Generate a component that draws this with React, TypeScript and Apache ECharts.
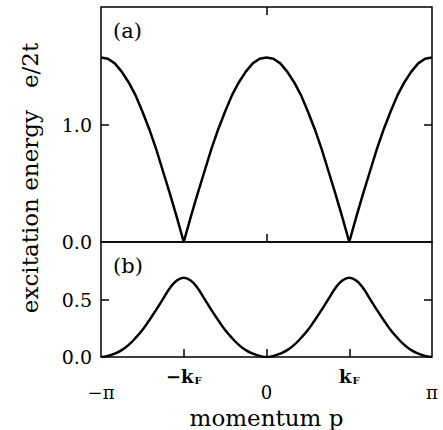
import React, { useEffect, useRef } from "react";
import * as echarts from "echarts";

// Momentum samples, in degrees, from -π to π
const momentumDeg = [
  -180, -172.5, -165, -157.5, -150, -142.5, -135, -127.5, -120, -112.5, -105, -97.5,
  -90, -82.5, -75, -67.5, -60, -52.5, -45, -37.5, -30, -22.5, -15, -7.5,
  0, 7.5, 15, 22.5, 30, 37.5, 45, 52.5, 60, 67.5, 75, 82.5, 90, 97.5, 105, 112.5,
  120, 127.5, 135, 142.5, 150, 157.5, 165, 172.5, 180,
];

// Panel (a): excitation energy e/2t
const energyA = [
  1.57, 1.56, 1.52, 1.45, 1.36, 1.25, 1.11, 0.96, 0.79, 0.6, 0.41, 0.21, 0.0,
  0.21, 0.41, 0.6, 0.79, 0.96, 1.11, 1.25, 1.36, 1.45, 1.52, 1.56, 1.57,
  1.56, 1.52, 1.45, 1.36, 1.25, 1.11, 0.96, 0.79, 0.6, 0.41, 0.21, 0.0,
  0.21, 0.41, 0.6, 0.79, 0.96, 1.11, 1.25, 1.36, 1.45, 1.52, 1.56, 1.57,
];

// Panel (b): excitation energy e/2t
const energyB = [
  0.0, 0.01, 0.03, 0.06, 0.105, 0.165, 0.235, 0.32, 0.41, 0.505, 0.6, 0.665, 0.69,
  0.665, 0.6, 0.505, 0.41, 0.32, 0.235, 0.165, 0.105, 0.06, 0.03, 0.01, 0.0,
  0.01, 0.03, 0.06, 0.105, 0.165, 0.235, 0.32, 0.41, 0.505, 0.6, 0.665, 0.69,
  0.665, 0.6, 0.505, 0.41, 0.32, 0.235, 0.165, 0.105, 0.06, 0.03, 0.01, 0.0,
];

const yTicksA = [1];
const yLabelsA = [0, 1];
const yTicksB = [0.5];
const yLabelsB = [0, 0.5];

const PI = Math.PI;
const FONT = "DejaVu Serif";
const INK = "#000";

const toPairs = (vals: number[]) =>
  momentumDeg.map((d, i) => [(d * PI) / 180, vals[i]]);

const near = (a: number, b: number) => Math.abs(a - b) < 1e-6;

export default function App() {
  const ref = useRef<HTMLDivElement>(null);

  useEffect(() => {
    if (!ref.current) return;
    const chart = echarts.init(ref.current, null, { renderer: "svg" });

    const tick = (values: number[]) => ({
      show: true,
      inside: true,
      length: 8,
      customValues: values,
      lineStyle: { color: INK, width: 1.5 },
    });

    const hiddenLine = { show: false, onZero: false };

    const baseX = {
      type: "value" as const,
      min: -PI,
      max: PI,
      interval: PI / 2,
      axisLine: hiddenLine,
      splitLine: { show: false },
    };

    const baseY = (grid: number, max: number, position: "left" | "right") => ({
      type: "value" as const,
      gridIndex: grid,
      position,
      min: 0,
      max,
      interval: 0.5,
      axisLine: hiddenLine,
      splitLine: { show: false },
    });

    const yLabel = (values: number[]) => ({
      customValues: values,
      margin: 9,
      fontFamily: FONT,
      fontSize: 19,
      color: INK,
      formatter: (v: number) => v.toFixed(1),
    });

    chart.setOption({
      animation: false,
      backgroundColor: "#fff",
      grid: [
        { left: 101, top: 7, right: 11, height: 235, show: true, borderColor: INK, borderWidth: 1.5 },
        { left: 101, top: 242, right: 11, height: 116, show: true, borderColor: INK, borderWidth: 1.5 },
      ],
      xAxis: [
        { ...baseX, gridIndex: 0, position: "bottom", axisTick: tick([0]), axisLabel: { show: false } },
        { ...baseX, gridIndex: 0, position: "top", axisTick: tick([0]), axisLabel: { show: false } },
        {
          ...baseX,
          gridIndex: 1,
          position: "bottom",
          axisTick: tick([-PI / 2, 0, PI / 2]),
          axisLabel: {
            show: true,
            customValues: [-PI, 0, PI],
            margin: 26,
            fontFamily: FONT,
            fontSize: 18,
            color: INK,
            formatter: (v: number) => (near(v, 0) ? "0" : v < 0 ? "\u2212\u03c0" : "\u03c0"),
          },
          name: "momentum p",
          nameLocation: "middle",
          nameGap: 49,
          nameTextStyle: { fontFamily: FONT, fontSize: 23, color: INK },
        },
        {
          ...baseX,
          gridIndex: 1,
          position: "bottom",
          axisTick: { show: false },
          axisLabel: {
            show: true,
            customValues: [-PI / 2, PI / 2],
            margin: 10,
            color: INK,
            formatter: (v: number) => (v < 0 ? "{k|\u2212k}{f|F}" : "{k|k}{f|F}"),
            rich: {
              k: { fontFamily: FONT, fontSize: 18, fontWeight: "bold", color: INK },
              f: { fontFamily: FONT, fontSize: 10, fontWeight: "bold", color: INK, padding: [8, 0, 0, 1] },
            },
          },
        },
      ],
      yAxis: [
        { ...baseY(0, 2, "left"), axisTick: tick(yTicksA), axisLabel: yLabel(yLabelsA) },
        { ...baseY(0, 2, "right"), axisTick: tick(yTicksA), axisLabel: { show: false } },
        { ...baseY(1, 1, "left"), axisTick: tick(yTicksB), axisLabel: yLabel(yLabelsB) },
        { ...baseY(1, 1, "right"), axisTick: tick(yTicksB), axisLabel: { show: false } },
      ],
      series: [
        {
          type: "line",
          xAxisIndex: 0,
          yAxisIndex: 0,
          data: toPairs(energyA),
          showSymbol: false,
          smooth: false,
          lineStyle: { color: INK, width: 2.5 },
        },
        {
          type: "line",
          xAxisIndex: 2,
          yAxisIndex: 2,
          data: toPairs(energyB),
          showSymbol: false,
          smooth: true,
          lineStyle: { color: INK, width: 2.5 },
        },
      ],
      graphic: [
        {
          type: "text",
          x: 30,
          y: 178,
          rotation: PI / 2,
          style: {
            text: "excitation energy   e/2t",
            font: `23px "${FONT}"`,
            fill: INK,
            align: "center",
            verticalAlign: "middle",
          },
        },
        {
          type: "text",
          x: 113,
          y: 31,
          style: { text: "(a)", font: `21px "${FONT}"`, fill: INK, align: "left", verticalAlign: "middle" },
        },
        {
          type: "text",
          x: 113,
          y: 266,
          style: { text: "(b)", font: `21px "${FONT}"`, fill: INK, align: "left", verticalAlign: "middle" },
        },
      ],
    });

    return () => chart.dispose();
  }, []);

  return (
    <div
      ref={ref}
      style={{ position: "fixed", left: 0, top: 0, width: 443, height: 430 }}
    />
  );
}
